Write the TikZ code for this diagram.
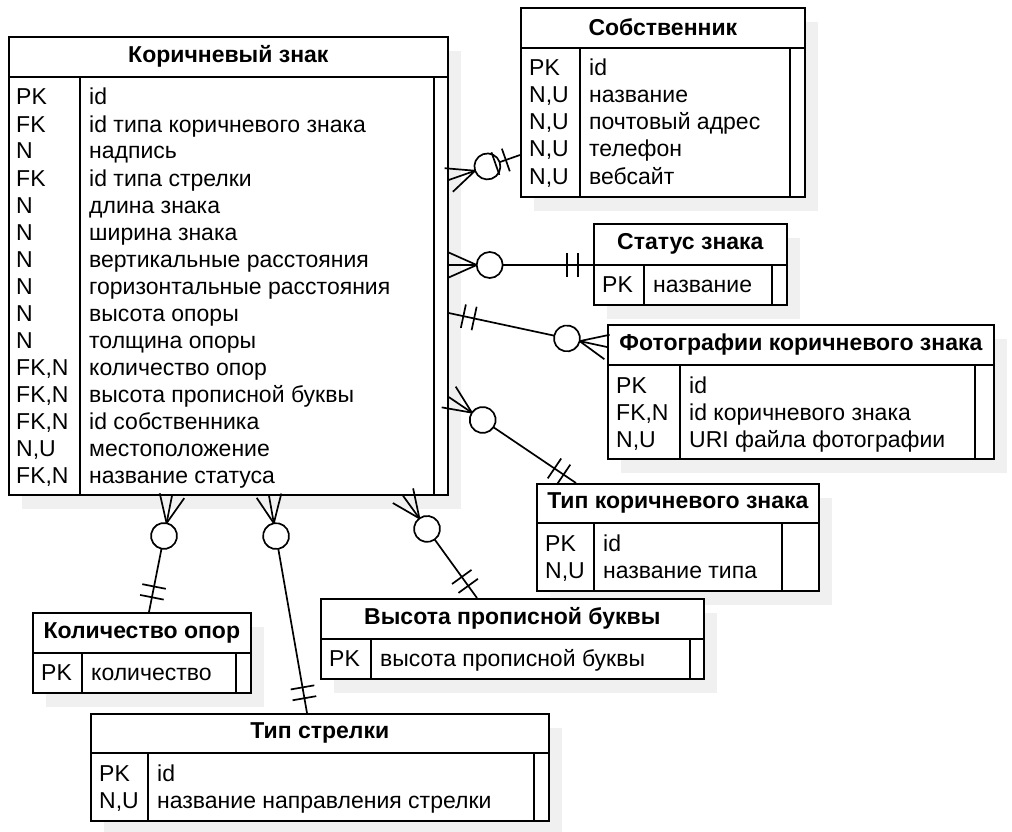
\documentclass[tikz,border=0pt]{standalone}
\usepackage{fontspec}
\setmainfont{Liberation Sans}
\usetikzlibrary{calc,shadows,decorations.markings}
\tikzset{
  tbl/.style={draw, line width=1.7pt, fill=white, anchor=north west, inner sep=0pt,
    drop shadow={shadow xshift=13pt, shadow yshift=-14pt, fill=black!6, opacity=1}},
  ttl/.style={font=\fontsize{23}{27}\selectfont\bfseries, inner sep=0pt},
  fld/.style={anchor=base west, inner sep=0pt},
  ln/.style={line width=1.7pt},
  rel/.style={line width=1.7pt},
  many/.style={postaction={decorate, decoration={markings,
    mark=at position 28pt with {
      \draw[line width=1.7pt] (-28pt,12.5pt) -- (0pt,0pt) -- (-28pt,-12.5pt);
      \draw[line width=1.7pt, fill=white] (13pt,0pt) circle (13pt);}}}},
  one/.style={postaction={decorate, decoration={markings,
    mark=at position -26pt with {\draw[line width=1.7pt] (0pt,-12pt) -- (0pt,12pt);},
    mark=at position -15pt with {\draw[line width=1.7pt] (0pt,-12pt) -- (0pt,12pt);}}}}
}
\begin{document}
\begin{tikzpicture}[x=1pt, y=-1pt, font=\fontsize{23}{27}\selectfont]
  \useasboundingbox (0,0) rectangle (1012,832);

  % Коричневый знак
  \node[tbl, minimum width=439pt, minimum height=458pt] (znak) at (8,36) {};
  \node[ttl] (znakt) at ($(znak.north)+(0,20.5)$) {Коричневый знак};
  \draw[ln] ([yshift=-41pt]znak.north west) -- ([yshift=-41pt]znak.north east)
    ([shift={(72pt,-41pt)}]znak.north west) -- ([xshift=72pt]znak.south west)
    ([shift={(-15pt,-41pt)}]znak.north east) -- ([xshift=-15pt]znak.south east);
  \foreach \k/\f [count=\i from 0] in {PK/id, FK/id типа коричневого знака, N/надпись,
      FK/id типа стрелки, N/длина знака, N/ширина знака, N/вертикальные расстояния,
      N/горизонтальные расстояния, N/высота опоры, N/толщина опоры,
      {FK,N}/количество опор, {FK,N}/высота прописной буквы, {FK,N}/id собственника,
      {N,U}/местоположение, {FK,N}/название статуса}{
    \node[fld] (znakk\i) at ($(znak.north west)+(8,{69+27*\i})$) {\k};
    \node[fld] (znakf\i) at ($(znak.north west)+(81,{69+27*\i})$) {\f};
  }

  % Собственник
  \node[tbl, minimum width=284pt, minimum height=189pt] (sobs) at (520,7) {};
  \node[ttl] (sobst) at ($(sobs.north)+(0,20.5)$) {Собственник};
  \draw[ln] ([yshift=-41pt]sobs.north west) -- ([yshift=-41pt]sobs.north east)
    ([shift={(60pt,-41pt)}]sobs.north west) -- ([xshift=60pt]sobs.south west)
    ([shift={(-16pt,-41pt)}]sobs.north east) -- ([xshift=-16pt]sobs.south east);
  \foreach \k/\f [count=\i from 0] in {PK/id, {N,U}/название, {N,U}/почтовый адрес,
      {N,U}/телефон, {N,U}/вебсайт}{
    \node[fld] (sobsk\i) at ($(sobs.north west)+(9,{69+27*\i})$) {\k};
    \node[fld] (sobsf\i) at ($(sobs.north west)+(69,{69+27*\i})$) {\f};
  }

  % Статус знака
  \node[tbl, minimum width=193pt, minimum height=81pt] (stat) at (593,223) {};
  \node[ttl] (statt) at ($(stat.north)+(0,21)$) {Статус знака};
  \draw[ln] ([yshift=-42pt]stat.north west) -- ([yshift=-42pt]stat.north east)
    ([shift={(51pt,-42pt)}]stat.north west) -- ([xshift=51pt]stat.south west)
    ([shift={(-16pt,-42pt)}]stat.north east) -- ([xshift=-16pt]stat.south east);
  \node[fld] (statk0) at ($(stat.north west)+(9,69)$) {PK};
  \node[fld] (statf0) at ($(stat.north west)+(60,69)$) {название};

  % Фотографии коричневого знака
  \node[tbl, minimum width=386pt, minimum height=134pt] (foto) at (607,324) {};
  \node[ttl] (fotot) at ($(foto.north)+(0,20.5)$) {Фотографии коричневого знака};
  \draw[ln] ([yshift=-41pt]foto.north west) -- ([yshift=-41pt]foto.north east)
    ([shift={(73pt,-41pt)}]foto.north west) -- ([xshift=73pt]foto.south west)
    ([shift={(-20pt,-41pt)}]foto.north east) -- ([xshift=-20pt]foto.south east);
  \foreach \k/\f [count=\i from 0] in {PK/id, {FK,N}/id коричневого знака,
      {N,U}/URI файла фотографии}{
    \node[fld] (fotok\i) at ($(foto.north west)+(9,{69+27*\i})$) {\k};
    \node[fld] (fotof\i) at ($(foto.north west)+(82,{69+27*\i})$) {\f};
  }

  % Тип коричневого знака
  \node[tbl, minimum width=282pt, minimum height=107pt] (tipz) at (536,483) {};
  \node[ttl] (tipzt) at ($(tipz.north)+(0,20)$) {Тип коричневого знака};
  \draw[ln] ([yshift=-40pt]tipz.north west) -- ([yshift=-40pt]tipz.north east)
    ([shift={(58pt,-40pt)}]tipz.north west) -- ([xshift=58pt]tipz.south west)
    ([shift={(-38pt,-40pt)}]tipz.north east) -- ([xshift=-38pt]tipz.south east);
  \foreach \k/\f [count=\i from 0] in {PK/id, {N,U}/название типа}{
    \node[fld] (tipzk\i) at ($(tipz.north west)+(9,{68+27*\i})$) {\k};
    \node[fld] (tipzf\i) at ($(tipz.north west)+(67,{68+27*\i})$) {\f};
  }

  % Высота прописной буквы
  \node[tbl, minimum width=383pt, minimum height=80pt] (vys) at (320,598) {};
  \node[ttl] (vyst) at ($(vys.north)+(0,20.5)$) {Высота прописной буквы};
  \draw[ln] ([yshift=-41pt]vys.north west) -- ([yshift=-41pt]vys.north east)
    ([shift={(51pt,-41pt)}]vys.north west) -- ([xshift=51pt]vys.south west)
    ([shift={(-15pt,-41pt)}]vys.north east) -- ([xshift=-15pt]vys.south east);
  \node[fld] (vysk0) at ($(vys.north west)+(9,68)$) {PK};
  \node[fld] (vysf0) at ($(vys.north west)+(60,68)$) {высота прописной буквы};

  % Количество опор
  \node[tbl, minimum width=218pt, minimum height=80pt] (kol) at (32,612) {};
  \node[ttl] (kolt) at ($(kol.north)+(0,20.5)$) {Количество опор};
  \draw[ln] ([yshift=-41pt]kol.north west) -- ([yshift=-41pt]kol.north east)
    ([shift={(50pt,-41pt)}]kol.north west) -- ([xshift=50pt]kol.south west)
    ([shift={(-16pt,-41pt)}]kol.north east) -- ([xshift=-16pt]kol.south east);
  \node[fld] (kolk0) at ($(kol.north west)+(9,68)$) {PK};
  \node[fld] (kolf0) at ($(kol.north west)+(59,68)$) {количество};

  % Тип стрелки
  \node[tbl, minimum width=458pt, minimum height=107pt] (strel) at (90,713) {};
  \node[ttl] (strelt) at ($(strel.north)+(0,20)$) {Тип стрелки};
  \draw[ln] ([yshift=-40pt]strel.north west) -- ([yshift=-40pt]strel.north east)
    ([shift={(58pt,-40pt)}]strel.north west) -- ([xshift=58pt]strel.south west)
    ([shift={(-16pt,-40pt)}]strel.north east) -- ([xshift=-16pt]strel.south east);
  \foreach \k/\f [count=\i from 0] in {PK/id, {N,U}/название направления стрелки}{
    \node[fld] (strelk\i) at ($(strel.north west)+(9,{68+27*\i})$) {\k};
    \node[fld] (strelf\i) at ($(strel.north west)+(67,{68+27*\i})$) {\f};
  }

  % relations
  \draw[rel, many, one] (znak.east |- 0,180) -- (sobs.west |- 0,155);
  \draw[rel, many, one] (znak.east |- 0,265) -- (stat.west |- 0,265);
  \draw[rel, many, one] (foto.west |- 0,347) -- (znak.east |- 0,313);
  \draw[rel, many, one] (znak.east |- 0,397) -- ([xshift=40pt]tipz.north west);
  \draw[rel, many, one] ([xshift=164pt]znak.south west) -- ([xshift=117pt]kol.north west);
  \draw[rel, many, one] ([xshift=261pt]znak.south west) -- ([xshift=217pt]strel.north west);
  \draw[rel, many, one] ([xshift=395pt]znak.south west) -- ([xshift=157pt]vys.north west);
\end{tikzpicture}
\end{document}
